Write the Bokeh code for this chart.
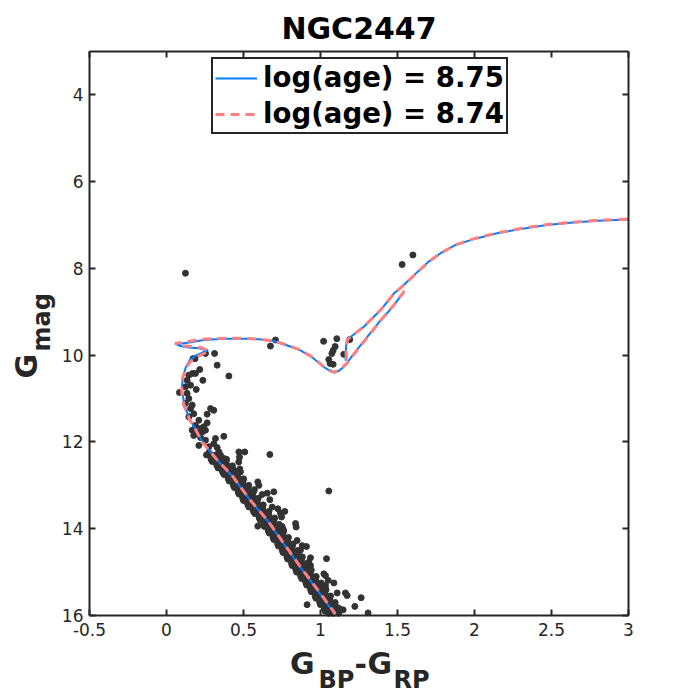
import numpy as np
from bokeh.plotting import figure
from bokeh.models import Range1d, LinearAxis, Label, Legend, LegendItem, FixedTicker
from bokeh.embed import file_html
from bokeh.resources import INLINE

# ---------------- data ----------------
title_text = "NGC2447"
x_ticks = [-0.5, 0, 0.5, 1, 1.5, 2, 2.5, 3]
x_tick_labels = ["-0.5", "0", "0.5", "1", "1.5", "2", "2.5", "3"]
y_ticks = [4, 6, 8, 10, 12, 14, 16]
y_tick_labels = ["4", "6", "8", "10", "12", "14", "16"]

iso1_label = "log(age) = 8.75"
iso1_color = [1.09, 1.085, 0.98, 0.87, 0.76, 0.655, 0.545, 0.435, 0.33, 0.24, 0.19, 0.156, 0.12, 0.104,
              0.10, 0.108, 0.125, 0.15, 0.19, 0.24, 0.27, 0.21, 0.14, 0.09, 0.06, 0.10, 0.16, 0.22, 0.29,
              0.40, 0.50, 0.60, 0.69, 0.78, 0.87, 0.95, 1.02, 1.065, 1.09, 1.12, 1.15, 1.17, 1.22, 1.28,
              1.39, 1.47, 1.52, np.nan, 1.163, 1.165, 1.17, 1.195, 1.28, 1.39, 1.476, 1.54, 1.63, 1.70,
              1.78, 1.877, 2.0, 2.147, 2.30, 2.47, 2.62, 2.80, 3.0]
iso1_gmag = [16.0, 15.93, 15.42, 14.89, 14.34, 13.81, 13.35, 12.82, 12.42, 12.03, 11.72, 11.50, 11.20, 10.90,
             10.73, 10.50, 10.28, 10.12, 10.01, 9.93, 9.89, 9.84, 9.82, 9.79, 9.74, 9.73, 9.70, 9.66, 9.64,
             9.62, 9.62, 9.63, 9.67, 9.77, 9.89, 10.06, 10.27, 10.37, 10.40, 10.36, 10.27, 10.19, 9.95, 9.68,
             9.20, 8.88, 8.64, np.nan, 10.13, 9.85, 9.65, 9.58, 9.35, 8.96, 8.58, 8.38, 8.08, 7.85,
             7.65, 7.46, 7.32, 7.19, 7.09, 7.00, 6.95, 6.90, 6.87]

iso2_label = "log(age) = 8.74"
iso2_color = [1.093, 1.09, 0.985, 0.872, 0.762, 0.655, 0.543, 0.432, 0.328, 0.236, 0.186, 0.15, 0.115, 0.10,
              0.098, 0.106, 0.125, 0.155, 0.20, 0.25, 0.275, 0.23, 0.16, 0.10, 0.055, 0.09, 0.15, 0.21, 0.29,
              0.40, 0.50, 0.60, 0.69, 0.78, 0.87, 0.95, 1.02, 1.065, 1.09, 1.125, 1.155, 1.175, 1.23, 1.29,
              1.40, 1.48, 1.545, np.nan, 1.17, 1.165, 1.175, 1.20, 1.285, 1.395, 1.48, 1.545, 1.635, 1.705,
              1.785, 1.88, 2.0, 2.15, 2.30, 2.47, 2.62, 2.80, 3.0]
iso2_gmag = [16.0, 15.93, 15.42, 14.89, 14.34, 13.80, 13.34, 12.80, 12.41, 12.02, 11.70, 11.48, 11.18, 10.90,
             10.72, 10.50, 10.30, 10.15, 10.04, 9.95, 9.90, 9.83, 9.80, 9.78, 9.73, 9.71, 9.68, 9.64, 9.62,
             9.61, 9.61, 9.63, 9.67, 9.76, 9.88, 10.05, 10.26, 10.36, 10.39, 10.34, 10.24, 10.17, 9.92, 9.65,
             9.16, 8.83, 8.52, np.nan, 10.10, 9.88, 9.64, 9.57, 9.33, 8.94, 8.57, 8.37, 8.07, 7.84,
             7.64, 7.45, 7.31, 7.18, 7.08, 6.99, 6.94, 6.89, 6.86]

# scattered member stars
star_color = [0.123, 1.60, 1.53, 0.312, 0.253, 0.172, 0.185, 0.216, 0.708, 0.675, 1.02, 1.106, 1.095, 1.082,
              1.074, 1.054, 1.062, 1.082, 1.151, 1.19, 0.329, 0.405, 0.236, 0.145, 0.169, 0.188, 0.134, 0.123,
              0.156, 0.193, 0.084, 0.134, 0.145, 0.123, 0.167, 0.156, 0.286, 0.307, 0.177, 0.264, 0.145, 0.21,
              0.264, 0.188, 0.242, 0.221, 0.167, 0.253, 0.199, 0.232, 0.177, 0.372, 0.221, 0.318, 0.253, 0.21,
              0.307, 0.275, 0.329, 0.275, 0.34, 0.318, 0.47, 0.508, 0.474, 0.372, 0.469, 0.671, 0.476, 0.437,
              0.48, 1.054, 0.593, 0.60, 0.571, 0.621, 0.654, 0.697, 0.671, 0.686, 0.723, 0.74, 0.768, 0.747,
              0.838, 0.842, 0.593, 0.729, 0.758, 0.751, 0.848, 0.881, 0.909, 0.87, 0.87, 0.935, 1.039, 0.924,
              0.935, 0.924, 1.022, 1.032, 1.05, 1.087, 1.032, 1.01, 1.026, 1.108, 1.162, 1.173, 1.264, 0.913,
              1.113, 1.147, 1.223, 1.309]
star_gmag = [8.11, 7.69, 7.91, 9.96, 9.96, 10.08, 10.08, 10.33, 9.65, 9.79, 9.68, 9.62, 9.80, 9.89,
             9.96, 10.10, 10.19, 10.21, 9.98, 9.64, 10.23, 10.48, 10.58, 10.46, 10.42, 10.42, 10.58, 10.73,
             10.69, 10.79, 10.86, 10.88, 11.00, 11.11, 11.15, 11.23, 11.23, 11.27, 11.35, 11.36, 11.42, 11.50,
             11.56, 11.62, 11.65, 11.69, 11.73, 11.73, 11.81, 11.77, 11.85, 11.87, 11.90, 11.92, 11.96, 12.08,
             12.04, 12.11, 12.13, 12.25, 12.23, 12.31, 12.23, 12.23, 12.35, 12.38, 12.46, 12.29, 12.62, 12.65,
             12.69, 13.13, 12.92, 13.00, 13.10, 13.21, 13.18, 13.15, 13.33, 13.50, 13.54, 13.64, 13.60, 13.73,
             13.88, 13.96, 13.94, 13.97, 14.02, 13.95, 14.27, 14.39, 14.41, 14.49, 14.64, 14.67, 14.69, 14.77,
             14.85, 14.96, 15.04, 15.08, 15.19, 15.25, 15.31, 15.31, 15.52, 15.48, 15.48, 15.54, 15.59, 15.75,
             15.82, 15.87, 15.79, 15.94]

# dense main-sequence band: one magnitude per row, the colours read at that magnitude
ms_row_gmag = [12.30, 12.35, 12.40, 12.45, 12.50, 12.55, 12.60, 12.65, 12.70, 12.75, 12.80, 12.85, 12.90,
               12.95, 13.00, 13.05, 13.10, 13.15, 13.20, 13.25, 13.30, 13.35, 13.40, 13.45, 13.50, 13.55,
               13.60, 13.65, 13.70, 13.75, 13.80, 13.85, 13.90, 13.95, 14.00, 14.05, 14.10, 14.15, 14.20,
               14.25, 14.30, 14.35, 14.40, 14.45, 14.50, 14.55, 14.60, 14.65, 14.70, 14.75, 14.80, 14.85,
               14.90, 14.95, 15.00, 15.05, 15.10, 15.15, 15.20, 15.25, 15.30, 15.35, 15.40, 15.45, 15.50,
               15.55, 15.60, 15.65, 15.70, 15.75, 15.80, 15.85, 15.90, 15.95]
ms_row_color = [
    [0.26, 0.293, 0.323, 0.35], [0.288, 0.318, 0.35], [0.29, 0.325, 0.355, 0.39],
    [0.297, 0.33, 0.36, 0.387], [0.325, 0.355, 0.387], [0.328, 0.363, 0.393, 0.428],
    [0.335, 0.368, 0.398, 0.425], [0.363, 0.393, 0.425], [0.365, 0.40, 0.43, 0.465],
    [0.373, 0.406, 0.436, 0.463], [0.40, 0.43, 0.462], [0.401, 0.436, 0.466, 0.501],
    [0.407, 0.44, 0.47, 0.497], [0.433, 0.463, 0.495], [0.434, 0.469, 0.499, 0.534],
    [0.44, 0.473, 0.503, 0.53], [0.465, 0.495, 0.527], [0.465, 0.50, 0.53, 0.565],
    [0.47, 0.503, 0.533, 0.56], [0.495, 0.525, 0.557], [0.495, 0.53, 0.56, 0.595],
    [0.50, 0.533, 0.563, 0.59], [0.526, 0.556, 0.588], [0.528, 0.563, 0.593, 0.628],
    [0.535, 0.568, 0.598, 0.625], [0.562, 0.592, 0.624], [0.565, 0.60, 0.63, 0.665],
    [0.573, 0.606, 0.636, 0.663], [0.60, 0.63, 0.662], [0.602, 0.637, 0.667, 0.702],
    [0.608, 0.641, 0.671, 0.698], [0.633, 0.663, 0.695], [0.632, 0.667, 0.697, 0.732],
    [0.636, 0.669, 0.699, 0.726], [0.66, 0.69, 0.722], [0.661, 0.696, 0.726, 0.761],
    [0.667, 0.70, 0.73, 0.757], [0.692, 0.722, 0.754], [0.692, 0.727, 0.757, 0.792],
    [0.697, 0.73, 0.76, 0.787], [0.722, 0.752, 0.784], [0.722, 0.757, 0.787, 0.822],
    [0.727, 0.76, 0.79, 0.817], [0.752, 0.782, 0.814], [0.752, 0.787, 0.817, 0.852],
    [0.757, 0.79, 0.82, 0.847], [0.782, 0.812, 0.844], [0.782, 0.817, 0.847, 0.882],
    [0.787, 0.82, 0.85, 0.877], [0.812, 0.842, 0.874], [0.812, 0.847, 0.877, 0.912],
    [0.816, 0.849, 0.879, 0.906], [0.84, 0.87, 0.902], [0.84, 0.875, 0.905, 0.94],
    [0.845, 0.878, 0.908, 0.935], [0.871, 0.901, 0.933], [0.872, 0.907, 0.937, 0.972],
    [0.878, 0.911, 0.941, 0.968], [0.905, 0.935, 0.967], [0.905, 0.94, 0.97, 1.005],
    [0.911, 0.944, 0.974, 1.001], [0.936, 0.966, 0.998], [0.936, 0.971, 1.001, 1.036],
    [0.94, 0.973, 1.003, 1.03], [0.965, 0.995, 1.027], [0.965, 1.0, 1.03, 1.065],
    [0.97, 1.003, 1.033, 1.06], [0.995, 1.025, 1.057], [0.995, 1.03, 1.06, 1.095],
    [1.0, 1.033, 1.063, 1.09], [1.025, 1.055, 1.087], [1.025, 1.06, 1.09, 1.125],
    [1.03, 1.063, 1.093, 1.12], [1.055, 1.085, 1.117]]

# ---------------- layout ----------------
W = H = 694
L, R, T, B = 89, 628, 51, 615          # pixel box of the plotting area
XMIN, XMAX, YTOP, YBOT = -0.5, 3.0, 3.0, 16.0


def sx(px):
    return XMIN + (px - L) / (R - L) * (XMAX - XMIN)


def sy(py):
    return YTOP + (py - T) / (B - T) * (YBOT - YTOP)


FONT = "DejaVu Sans"
INK = "#262626"

# the frame spans the whole canvas so that titles/labels outside the box are not clipped;
# the axes are pinned to the box edges with fixed_location + bounds
p = figure(width=W, height=H, output_backend="svg", toolbar_location=None,
           x_range=Range1d(sx(0), sx(W)), y_range=Range1d(sy(H), sy(0)),
           min_border=0, min_border_left=0, min_border_right=0, min_border_top=0, min_border_bottom=0,
           x_axis_location=None, y_axis_location=None,
           background_fill_color="white", border_fill_color="white")
p.outline_line_color = None
p.grid.visible = False


def make_axis(ticks, labels, loc, bounds, standoff=5, show_labels=True):
    ax = LinearAxis(fixed_location=loc, bounds=bounds)
    ax.ticker = FixedTicker(ticks=ticks)
    ax.major_label_overrides = {t: l for t, l in zip(ticks, labels)}
    ax.axis_line_color = INK
    ax.axis_line_width = 2
    ax.major_tick_line_color = INK
    ax.major_tick_line_width = 2
    ax.major_tick_in = 6
    ax.major_tick_out = 0
    ax.minor_tick_line_color = None
    ax.major_label_text_font = FONT
    ax.major_label_text_font_size = "17px"
    ax.major_label_text_color = INK
    ax.major_label_standoff = standoff
    if not show_labels:
        ax.major_label_text_alpha = 0
    return ax


p.add_layout(make_axis(x_ticks, x_tick_labels, YBOT, (XMIN, XMAX), standoff=7), "below")
p.add_layout(make_axis(y_ticks, y_tick_labels, XMIN, (YTOP, YBOT), standoff=6), "left")
p.add_layout(make_axis(x_ticks, x_tick_labels, YTOP, (XMIN, XMAX), show_labels=False), "above")
p.add_layout(make_axis(y_ticks, y_tick_labels, XMAX, (YTOP, YBOT), show_labels=False), "right")

# ---------------- marks ----------------
ms_color = [c for row in ms_row_color for c in row]
ms_gmag = [g for g, row in zip(ms_row_gmag, ms_row_color) for _ in row]
all_color = star_color + ms_color
all_gmag = star_gmag + ms_gmag
p.scatter(all_color, all_gmag, size=6, color="#333333", line_color="#333333")

r1 = p.line(iso1_color, iso1_gmag, line_color="#0A7CFF", line_width=2)
r2 = p.line(iso2_color, iso2_gmag, line_color="#FF8080", line_width=3, line_dash="9 6")

legend = Legend(items=[LegendItem(label=iso1_label, renderers=[r1]),
                       LegendItem(label=iso2_label, renderers=[r2])],
                location=(211, H - 134), orientation="vertical")
legend.label_text_font = FONT
legend.label_text_font_size = "27.6px"
legend.label_text_font_style = "bold"
legend.label_text_color = "black"
legend.glyph_width = 42
legend.glyph_height = 30
legend.label_height = 30
legend.padding = 2
legend.spacing = 3
legend.label_standoff = 6
legend.margin = 0
legend.border_line_color = INK
legend.border_line_alpha = 1.0
legend.border_line_width = 2
legend.background_fill_color = "white"
legend.background_fill_alpha = 1.0
p.add_layout(legend)


# ---------------- texts ----------------
# Bokeh places an "alphabetic" label about 0.36 em below the requested baseline; compensate.
def add_label(text, px, py, size_px, align="left", angle=0.0, color=INK):
    shift = 0.36 * size_px
    if angle == 0.0:
        py = py - shift
    else:
        px = px - shift
    p.add_layout(Label(x=sx(px), y=sy(py), text=text, text_font=FONT, text_font_size=f"{size_px}px",
                       text_font_style="bold", text_color=color,
                       text_align=align, text_baseline="alphabetic", angle=angle))


add_label(title_text, (L + R) / 2, 39, 30, align="center", color="black")
# x label  G_BP - G_RP
add_label("G", 289.5, 674, 30)
add_label("BP", 318, 688, 24)
add_label("-", 354, 674, 30)
add_label("G", 367, 674, 30)
add_label("RP", 393, 688, 24)
# y label  G_mag (rotated)
add_label("G", 37, 378, 30, angle=np.pi / 2)
add_label("mag", 50, 351, 24, angle=np.pi / 2)

open("out.html", "w").write(file_html(p, INLINE))
